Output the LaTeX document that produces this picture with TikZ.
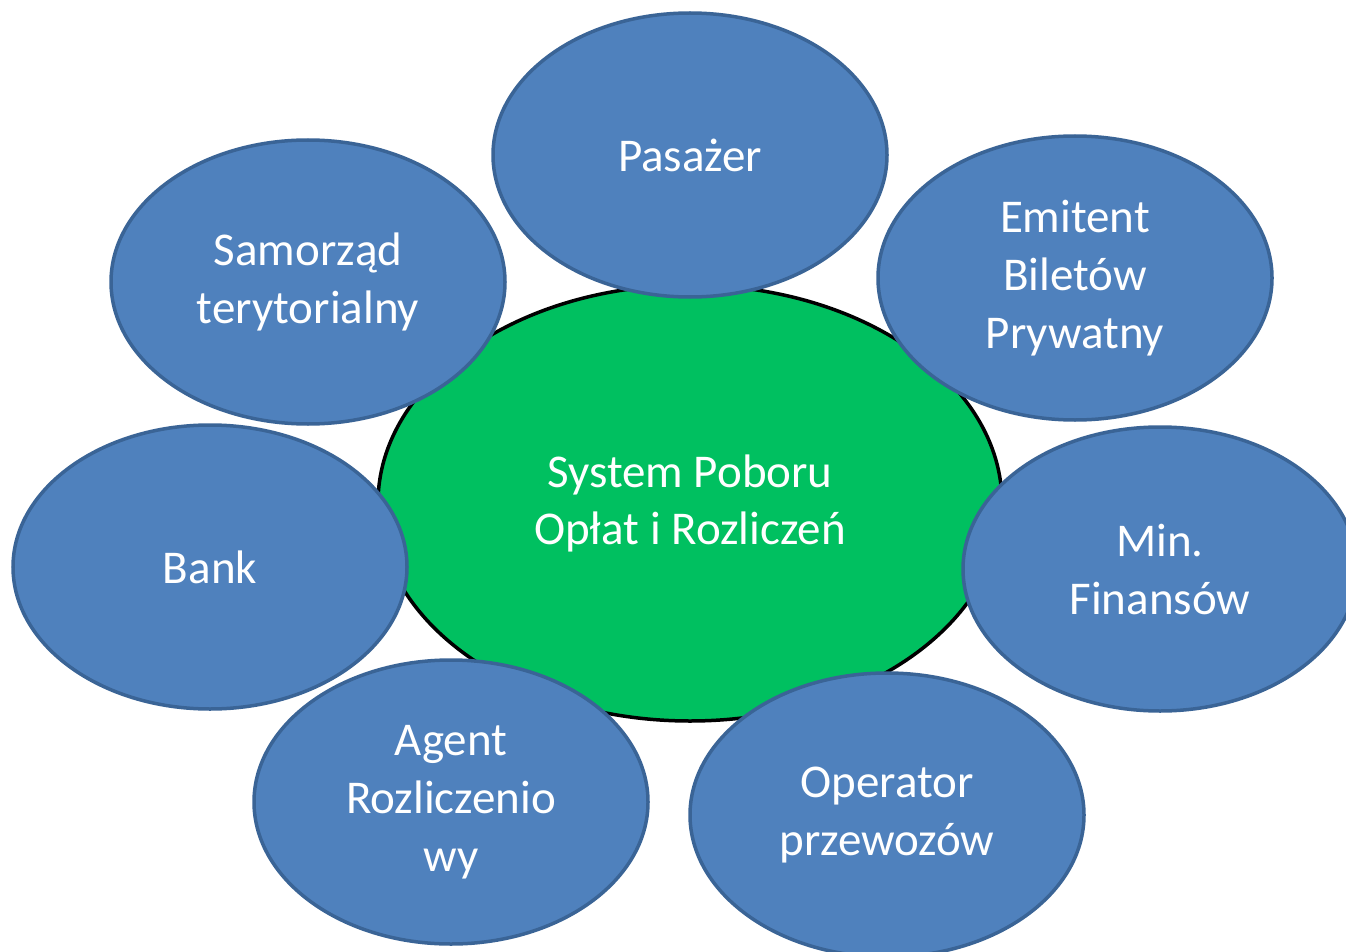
\documentclass[tikz,border=0pt]{standalone}
\usepackage{fontspec}
\setmainfont{Carlito}
\usetikzlibrary{shapes.geometric}
\definecolor{bluefill}{HTML}{4F81BD}
\definecolor{blueline}{HTML}{3A6496}
\definecolor{greenfill}{HTML}{00C060}
\tikzset{
  actor/.style={ellipse, draw=blueline, fill=bluefill, line width=3.5pt, inner sep=0pt,
    minimum width=394pt, minimum height=284pt, text=white, align=center,
    font=\fontsize{47}{58}\selectfont},
  core/.style={ellipse, draw=black, fill=greenfill, line width=3.5pt, inner sep=0pt,
    minimum width=624pt, minimum height=436pt, text=white, align=center,
    font=\fontsize{47}{57}\selectfont}
}
\begin{document}
\begin{tikzpicture}[x=1pt,y=-1pt]
\useasboundingbox (0,0) rectangle (1346,952);
\clip (0,0) rectangle (1346,952);
\node[core] (sys) at (690,503) {System Poboru\\Opłat i Rozliczeń};
\node[actor] (pas) at (690,155) {\raisebox{-3pt}{Pasażer}};
\node[actor] (emi) at (1075,278) {Emitent\\Biletów\\Prywatny};
\node[actor] (sam) at (308,282) {Samorząd\\terytorialny};
\node[actor] (bank) at (210,567) {\raisebox{-3pt}{Bank}};
\node[actor] (min) at (1160,569) {Min.\\Finansów};
\node[actor] (agent) at (451,802) {Agent\\Rozliczenio\\wy};
\node[actor] (oper) at (887,815) {Operator\\przewozów};
\end{tikzpicture}
\end{document}
